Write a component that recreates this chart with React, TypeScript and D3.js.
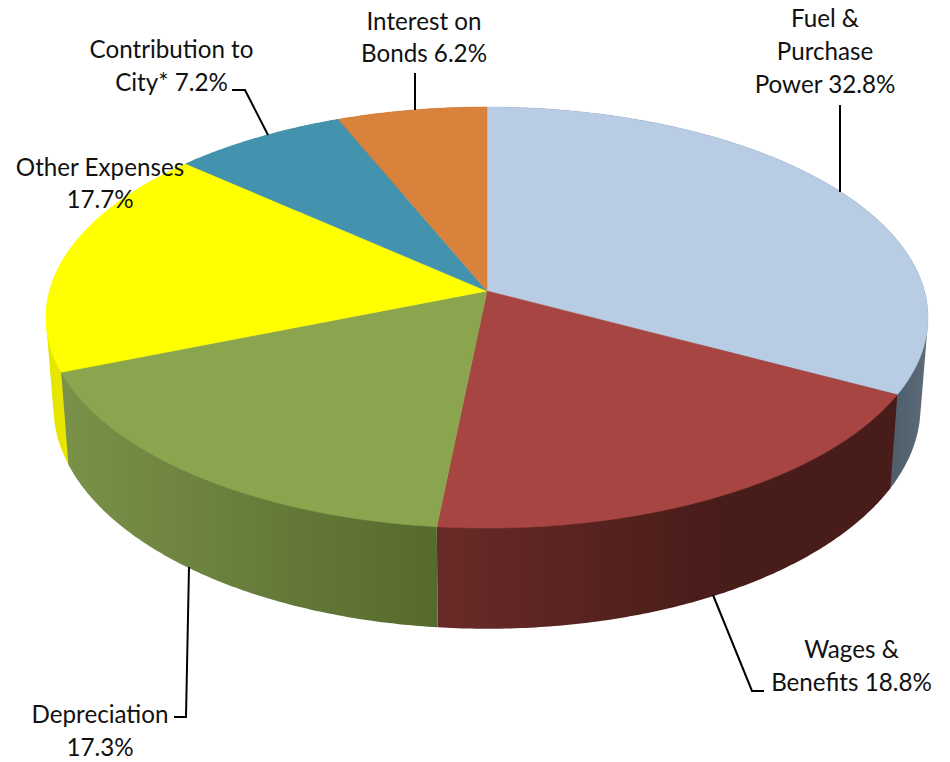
import React from "react";
import * as d3 from "d3";

// Operating expense shares, in percent, clockwise from twelve o'clock.
const categories = [
  "Fuel & Purchase Power",
  "Wages & Benefits",
  "Depreciation",
  "Other Expenses",
  "Contribution to City*",
  "Interest on Bonds",
];
const shares = [32.8, 18.8, 17.3, 17.7, 7.2, 6.2];
const topColors = ["#b8cce4", "#a64541", "#8aa54e", "#ffff00", "#4493ae", "#d8823c"];
const sideStops = [
  ["#4b5b68", "#5b6a76"],
  ["#682a27", "#481c19"],
  ["#7a9149", "#55692d"],
  ["#e6e600", "#e6e600"],
  ["#2f6a7e", "#2f6a7e"],
  ["#9c5e2b", "#9c5e2b"],
];
const sideSpans = [
  [885, 925],
  [445, 720],
  [60, 445],
  [45, 60],
  [0, 950],
  [0, 950],
];
// Outer walls are painted first, then the front walls that overlap them.
const sidePaintOrder = [0, 3, 4, 5, 1, 2];
const labelLines = [
  ["Fuel &", "Purchase", "Power 32.8%"],
  ["Wages &", "Benefits 18.8%"],
  ["Depreciation", "17.3%"],
  ["Other Expenses", "17.7%"],
  ["Contribution to", "City* 7.2%"],
  ["Interest on", "Bonds 6.2%"],
];
const labelCentres = [825, 851.5, 100, 100, 171.5, 424];
const labelBaselines = [
  [27, 60, 93],
  [658, 691],
  [723, 756],
  [176, 208],
  [58, 91],
  [30, 62],
];
const leaders: [number, number][][] = [
  [[840, 105], [840, 192]],
  [[713, 595], [752, 691], [764, 691]],
  [[174, 717], [186, 717], [189, 567]],
  [],
  [[232, 90], [245, 90], [268, 135]],
  [[415, 73], [415, 110]],
];

// Perspective view of the disc: the hub sits above the centre of the rim ellipse.
const hubX = 487;
const hubY = 291;
const radiusX = 437.5;
const radiusY = 207.2;
const tilt = 0.126;
const depth = 88;
const lowerScale = 0.983;

const project = (angle: number, lower: boolean): [number, number] => {
  const u = Math.sin(angle);
  const v = -Math.cos(angle);
  const w = 1 - tilt * v;
  return [
    hubX + (radiusX * (lower ? lowerScale : 1) * u) / w,
    hubY + (radiusY * v + (lower ? depth : 0)) / w,
  ];
};

const outline = d3.line<[number, number]>().curve(d3.curveLinear);

const arcSamples = (start: number, end: number) => {
  const steps = Math.max(2, Math.ceil((end - start) / 0.01));
  return d3.range(steps + 1).map((i) => start + ((end - start) * i) / steps);
};

export default function App() {
  const slices = d3
    .pie<number>()
    .sort(null)
    .startAngle(0)
    .endAngle(2 * Math.PI)(shares);

  return (
    <svg
      width={950}
      height={762}
      viewBox="0 0 950 762"
      style={{ position: "absolute", left: 0, top: 0, background: "#fff" }}
    >
      <defs>
        {sideStops.map((stops, i) => (
          <linearGradient
            key={i}
            id={`side-${i}`}
            gradientUnits="userSpaceOnUse"
            x1={sideSpans[i][0]}
            x2={sideSpans[i][1]}
            y1={0}
            y2={0}
          >
            <stop offset="0" stopColor={stops[0]} />
            <stop offset="1" stopColor={stops[1]} />
          </linearGradient>
        ))}
      </defs>

      <g>
        {sidePaintOrder.map((i) => {
          const s = slices[i];
          const angles = arcSamples(s.startAngle, s.endAngle);
          // The hull closes the silhouette between the upper and lower rims.
          const wall = d3.polygonHull([
            ...angles.map((a) => project(a, false)),
            ...angles.map((a) => project(a, true)),
          ]) as [number, number][];
          return <path key={i} d={outline(wall) + "Z"} fill={`url(#side-${i})`} />;
        })}
      </g>

      <g>
        {slices.map((s, i) => {
          const rim = arcSamples(s.startAngle, s.endAngle).map((a) => project(a, false));
          const wedge: [number, number][] = [[hubX, hubY], ...rim];
          return (
            <path
              key={categories[i]}
              d={outline(wedge) + "Z"}
              fill={topColors[i]}
              stroke={topColors[i]}
              strokeWidth={0.5}
            />
          );
        })}
      </g>

      <g fill="none" stroke="#000" strokeWidth={2}>
        {leaders.map((points, i) =>
          points.length ? <path key={i} d={outline(points) ?? ""} /> : null
        )}
      </g>

      <g
        fontFamily="Lato, Carlito, sans-serif"
        fontSize={24.2}
        fill="#111"
        textAnchor="middle"
      >
        {labelLines.map((lines, i) =>
          lines.map((line, j) => (
            <text key={`${i}-${j}`} x={labelCentres[i]} y={labelBaselines[i][j]}>
              {line}
            </text>
          ))
        )}
      </g>
    </svg>
  );
}
